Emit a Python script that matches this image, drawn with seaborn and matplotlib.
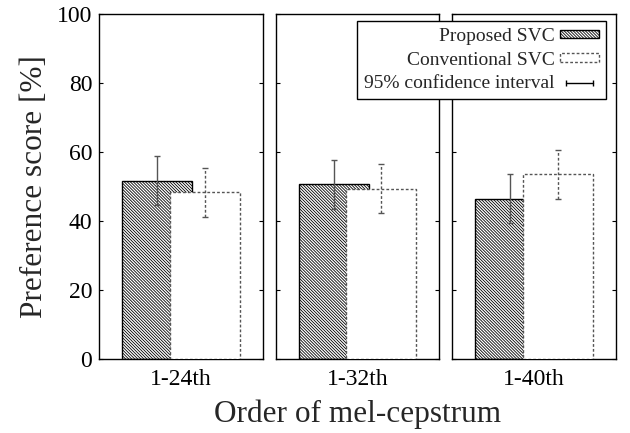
import numpy as np
import matplotlib
matplotlib.use("Agg")
import matplotlib.pyplot as plt
from matplotlib.patches import Patch
from matplotlib.lines import Line2D
import seaborn as sns

# data
orders = ["1-24th", "1-32th", "1-40th"]
proposed = [51.6, 50.6, 46.5]
conventional = [48.4, 49.4, 53.5]
proposed_ci = [7.1, 7.1, 7.0]
conventional_ci = [7.1, 7.1, 7.0]

sns.set_theme(style="ticks")
plt.rcParams["font.family"] = ["Liberation Serif", "DejaVu Serif"]
plt.rcParams["hatch.linewidth"] = 0.6
plt.rcParams["axes.edgecolor"] = "black"
plt.rcParams["axes.linewidth"] = 1.0

HATCH = "\\" * 11
DASH = (0, (2.0, 1.5))
bar_w = 0.86
off = 0.29

fig = plt.figure(figsize=(6.3, 4.33), dpi=100)
axes = fig.subplots(1, 3, sharey=True)
fig.subplots_adjust(left=0.1576, right=0.9773, top=0.9677, bottom=0.1709, wspace=0.0795)

for i, ax in enumerate(axes):
    # proposed (hatched) bar
    sns.barplot(x=[-off], y=[proposed[i]], native_scale=True, width=bar_w,
                color="white", saturation=1, edgecolor="black", linewidth=1.0,
                hatch=HATCH, errorbar=None, ax=ax, zorder=2)
    ax.errorbar(-off, proposed[i], yerr=proposed_ci[i], fmt="none",
                ecolor="#555555", elinewidth=1.0, capsize=2.5, capthick=1.0, zorder=3)
    # conventional (white, dashed) bar on top
    sns.barplot(x=[off], y=[conventional[i]], native_scale=True, width=bar_w,
                color="white", saturation=1, edgecolor="#555555", linewidth=1.0,
                linestyle=DASH, errorbar=None, ax=ax, zorder=4)
    eb2 = ax.errorbar(off, conventional[i], yerr=conventional_ci[i], fmt="none",
                      ecolor="#555555", elinewidth=1.0, capsize=2.5, capthick=1.0, zorder=5)
    eb2[2][0].set_linestyle(DASH)

    ax.set_xlim(-1, 1)
    ax.set_ylim(0, 100)
    ax.set_yticks(np.arange(0, 101, 20))
    ax.set_xticks([0])
    ax.set_xticklabels([orders[i]])
    ax.set_xlabel("")
    ax.set_ylabel("")
    for s in ax.spines.values():
        s.set_visible(True)
        s.set_color("black")
        s.set_linewidth(1.0)
    ax.tick_params(axis="y", direction="in", left=True, right=True, length=3,
                   width=0.8, labelsize=17, pad=5, colors="black")
    ax.tick_params(axis="x", length=0, labelsize=17, pad=7, colors="black")
    if i > 0:
        ax.tick_params(axis="y", labelleft=False)

axes[0].set_ylabel("Preference score [%]", fontsize=22.5, labelpad=6)
fig.supxlabel("Order of mel-cepstrum", fontsize=22.5, x=0.567, y=0.01)

handles = [
    Patch(facecolor="white", edgecolor="black", hatch=HATCH, linewidth=1.0, label="Proposed SVC"),
    Patch(facecolor="white", edgecolor="#555555", linestyle=DASH, linewidth=1.0, label="Conventional SVC"),
    Line2D([], [], color="black", lw=1.0, marker="|", markersize=5, label="95% confidence interval"),
]
fig.legend(handles=handles, loc="upper right", bbox_to_anchor=(606 / 630, 1 - 21 / 433),
           markerfirst=False, fontsize=14, frameon=True, fancybox=False, framealpha=1,
           edgecolor="black", handlelength=2.0, handleheight=0.3, labelspacing=0.35,
           numpoints=2, borderpad=0.35, handletextpad=0.3, borderaxespad=0)

fig.savefig("out.png", dpi=100)
